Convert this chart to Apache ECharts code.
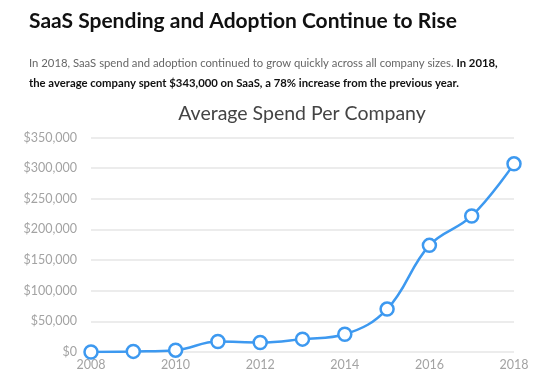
<!DOCTYPE html>
<html>
<head>
<meta charset="utf-8">
<script src="https://cdn.jsdelivr.net/npm/echarts@6/dist/echarts.min.js"></script>
<style>
html,body{margin:0;padding:0;background:#fff;}
#c{width:550px;height:383px;}
</style>
</head>
<body>
<div id="c"></div>
<script>
var years = ['2008','2009','2010','2011','2012','2013','2014','2015','2016','2017','2018'];
var avgSpend = [0, 1000, 3000, 17000, 15500, 21000, 29000, 70000, 174000, 222000, 307000];
var yTicks = [0, 50000, 100000, 150000, 200000, 250000, 300000, 350000];

var chart = echarts.init(document.getElementById('c'), null, {renderer:'canvas'});
var font = 'Lato, "Open Sans", sans-serif';
chart.setOption({
  animation: false,
  backgroundColor: '#fff',
  title: [
    {
      text: 'SaaS Spending and Adoption Continue to Rise',
      left: 24, top: 6,
      textStyle: {fontFamily: font, fontSize: 21, fontWeight: 'bold', color: '#111'}
    },
    {
      text: '{g|In 2018, SaaS spend and adoption continued to grow quickly across all company sizes. }{b|In 2018,}\n{b|the average company spent $343,000 on SaaS, a 78% increase from the previous year.}',
      left: 24, top: 48,
      textStyle: {
        fontFamily: font, fontSize: 11.3, fontWeight: 'normal', lineHeight: 20,
        rich: {
          g: {fontFamily: font, fontSize: 11.3, color: '#666', fontWeight: 'normal', lineHeight: 20},
          b: {fontFamily: font, fontSize: 11.3, color: '#111', fontWeight: 'bold', lineHeight: 20}
        }
      }
    },
    {
      text: 'Average Spend Per Company',
      left: 297, top: 99, textAlign: 'center',
      textStyle: {fontFamily: font, fontSize: 19.5, fontWeight: 'normal', color: '#444'}
    }
  ],
  grid: {left: 91, right: 36, top: 137.5, bottom: 31, containLabel: false},
  xAxis: {
    type: 'category',
    data: years,
    boundaryGap: false,
    axisLine: {show: false},
    axisTick: {show: false},
    axisLabel: {
      interval: 1, margin: 6,
      fontFamily: font, fontSize: 12.5, color: '#a3a3a3'
    },
    splitLine: {show: false}
  },
  yAxis: {
    type: 'value',
    min: yTicks[0], max: yTicks[yTicks.length - 1], interval: 50000,
    axisLine: {show: false},
    axisTick: {show: false},
    axisLabel: {
      margin: 14,
      fontFamily: font, fontSize: 12.5, color: '#a3a3a3',
      formatter: function (v) { return '$' + v.toLocaleString('en-US'); }
    },
    splitLine: {lineStyle: {color: '#e6e6e6', width: 1.5}}
  },
  series: [{
    type: 'line',
    data: avgSpend,
    smooth: 0.4,
    symbol: 'circle',
    symbolSize: 13,
    itemStyle: {color: '#fff', borderColor: '#3d99f0', borderWidth: 2.5},
    lineStyle: {color: '#3d99f0', width: 2.5},
    z: 3
  }]
});
</script>
</body>
</html>
